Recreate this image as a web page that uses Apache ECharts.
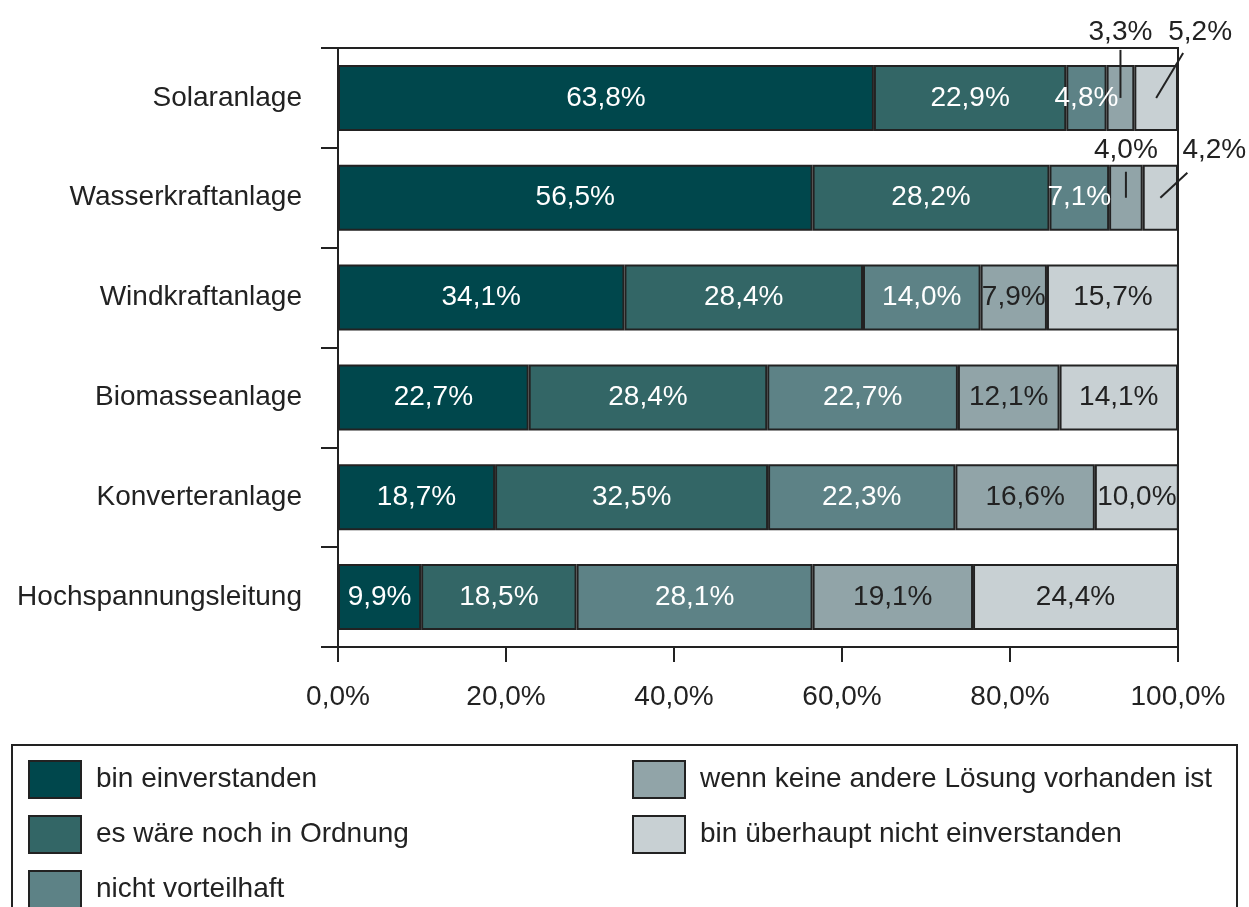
<!DOCTYPE html>
<html>
<head>
<meta charset="utf-8">
<script src="https://cdn.jsdelivr.net/npm/echarts@6/dist/echarts.min.js"></script>
<style>
  html, body { margin: 0; padding: 0; background: #fff; }
  #chart { width: 1249px; height: 907px; }
</style>
</head>
<body>
<div id="chart"></div>
<script>
// Daten
const categories = ['Solaranlage', 'Wasserkraftanlage', 'Windkraftanlage', 'Biomasseanlage', 'Konverteranlage', 'Hochspannungsleitung'];
const seriesNames = ['bin einverstanden', 'es wäre noch in Ordnung', 'nicht vorteilhaft', 'wenn keine andere Lösung vorhanden ist', 'bin überhaupt nicht einverstanden'];
const einverstanden = [63.8, 56.5, 34.1, 22.7, 18.7, 9.9];
const inOrdnung = [22.9, 28.2, 28.4, 28.4, 32.5, 18.5];
const nichtVorteilhaft = [4.8, 7.1, 14.0, 22.7, 22.3, 28.1];
const keineAndere = [3.3, 4.0, 7.9, 12.1, 16.6, 19.1];
const ueberhaupt = [5.2, 4.2, 15.7, 14.1, 10.0, 24.4];
const xTicks = [0, 20, 40, 60, 80, 100];

const values = [einverstanden, inOrdnung, nichtVorteilhaft, keineAndere, ueberhaupt];
const colors = ['#00474c', '#336666', '#5d8286', '#91a4a8', '#c8d0d3'];
const ink = '#222';
const labelColors = ['#fff', '#fff', '#fff', ink, ink];

// kleine Werte mit Beschriftung über dem Balken und Hinweislinie
const callouts = [
  { s: 3, c: 0, distance: 19, offset: [0, 0], line: [0, -48] },
  { s: 4, c: 0, distance: 19, offset: [44, 0], line: [27, -45] },
  { s: 3, c: 1, distance: 0, offset: [0, 0], line: [0, -26] },
  { s: 4, c: 1, distance: 0, offset: [54, 0], line: [27, -25] }
];

const font = '"Liberation Sans Narrow", "Liberation Sans", sans-serif';
const fmt = v => v.toFixed(1).replace('.', ',') + '%';

const chart = echarts.init(document.getElementById('chart'));

const series = values.map((arr, s) => ({
  name: seriesNames[s],
  type: 'bar',
  stack: 'total',
  barWidth: 66,
  itemStyle: { color: colors[s], borderColor: ink, borderWidth: 2 },
  label: {
    show: true,
    position: 'inside',
    color: labelColors[s],
    fontFamily: font,
    fontSize: 28,
    formatter: p => fmt(p.value)
  },
  data: arr.map((v, c) => {
    const co = callouts.find(k => k.s === s && k.c === c);
    if (!co) return v;
    return {
      value: v,
      label: { position: 'top', distance: co.distance, offset: co.offset, color: ink }
    };
  })
}));

const legendBase = {
  top: 760, orient: 'vertical', padding: 0, height: 160,
  icon: 'rect', itemWidth: 52, itemHeight: 37, itemGap: 16,
  textStyle: { color: ink, fontFamily: font, fontSize: 28, lineHeight: 30, padding: [0, 0, 0, 10] }
};

chart.setOption({
  animation: false,
  grid: {
    left: 338, right: 71, top: 48, bottom: 260,
    show: true, borderColor: ink, borderWidth: 2
  },
  xAxis: {
    type: 'value',
    min: xTicks[0],
    max: xTicks[xTicks.length - 1],
    interval: xTicks[1] - xTicks[0],
    axisLine: { show: true, lineStyle: { color: ink, width: 2 } },
    axisTick: { show: true, length: 15, lineStyle: { color: ink, width: 2 } },
    splitLine: { show: false },
    axisLabel: { color: ink, fontFamily: font, fontSize: 28, margin: 36, formatter: v => fmt(v) }
  },
  yAxis: {
    type: 'category',
    inverse: true,
    data: categories,
    axisLine: { show: true, lineStyle: { color: ink, width: 2 } },
    axisTick: { show: true, length: 17, lineStyle: { color: ink, width: 2 } },
    axisLabel: { color: ink, fontFamily: font, fontSize: 28, margin: 36 }
  },
  legend: [
    Object.assign({}, legendBase, { left: 28, data: seriesNames.slice(0, 3) }),
    Object.assign({}, legendBase, { left: 632, data: seriesNames.slice(3) })
  ],
  series: series
});

// Hinweislinien aus den Datenwerten berechnen
function segmentCenter(s, c) {
  let start = 0;
  for (let i = 0; i < s; i++) start += values[i][c];
  return chart.convertToPixel({ gridIndex: 0 }, [start + values[s][c] / 2, c]);
}

const graphics = callouts.map(co => {
  const p = segmentCenter(co.s, co.c);
  return {
    type: 'line',
    shape: { x1: p[0], y1: p[1], x2: p[0] + co.line[0], y2: p[1] + co.line[1] },
    style: { stroke: ink, lineWidth: 2 },
    z: 10
  };
});

// Rahmen der Legende
graphics.push({
  type: 'rect',
  shape: { x: 12, y: 745, width: 1225, height: 200 },
  style: { fill: 'none', stroke: ink, lineWidth: 2 },
  z: 0
});

chart.setOption({ graphic: graphics });

window.addEventListener('resize', () => chart.resize());
</script>
</body>
</html>
